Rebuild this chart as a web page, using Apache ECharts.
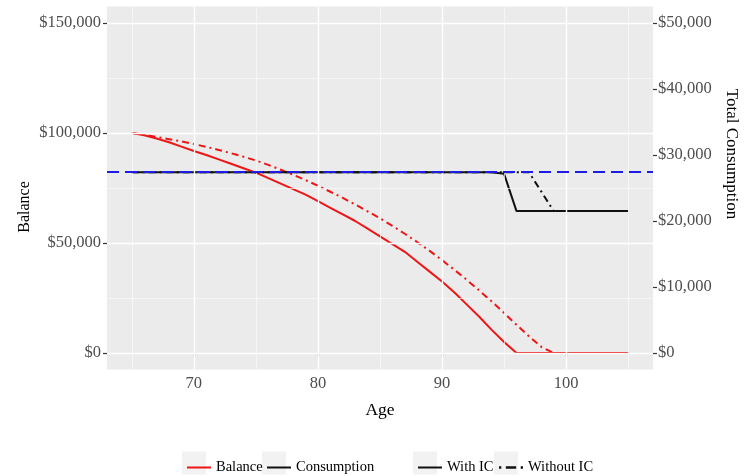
<!DOCTYPE html>
<html>
<head>
<meta charset="utf-8">
<script src="https://cdn.jsdelivr.net/npm/echarts@6/dist/echarts.min.js"></script>
<style>
  html, body { margin: 0; padding: 0; background: #fff; }
  #chart { width: 749px; height: 476px; }
</style>
</head>
<body>
<div id="chart"></div>
<script>
// ages on the x axis
let ages = [65, 66, 67, 68, 69, 70, 71, 72, 73, 74, 75, 76, 77, 78, 79, 80, 81, 82, 83, 84,
  85, 86, 87, 88, 89, 90, 91, 92, 93, 94, 95, 96, 97, 98, 99, 100, 101, 102, 103, 104, 105];

// balance (left axis)
let balanceWithIC = [100000, 99000, 97500, 95800, 93800, 91800, 90000, 88000, 86000, 84000,
  82000, 79500, 77000, 74500, 72000, 69000, 66000, 63000, 60000, 56500,
  53000, 49500, 46000, 41500, 37000, 32500, 27500, 22000, 16500, 10500,
  5000, 0, 0, 0, 0, 0, 0, 0, 0, 0, 0];
let balanceWithoutIC = [100000, 99200, 98200, 97200, 96200, 95000, 93700, 92300, 90800, 89200,
  87500, 85500, 83300, 81000, 78600, 76000, 73300, 70500, 67500, 64400,
  61200, 57800, 54200, 50400, 46400, 42200, 37800, 33200, 28400, 23400,
  18200, 12800, 7600, 2800, 0, 0, 0, 0, 0, 0, 0];

// total consumption (right axis)
let consumptionWithIC = [27400, 27400, 27400, 27400, 27400, 27400, 27400, 27400, 27400, 27400,
  27400, 27400, 27400, 27400, 27400, 27400, 27400, 27400, 27400, 27400,
  27400, 27400, 27400, 27400, 27400, 27400, 27400, 27400, 27400, 27400,
  27150, 21500, 21500, 21500, 21500, 21500, 21500, 21500, 21500, 21500, 21500];
let consumptionWithoutIC = [27400, 27400, 27400, 27400, 27400, 27400, 27400, 27400, 27400, 27400,
  27400, 27400, 27400, 27400, 27400, 27400, 27400, 27400, 27400, 27400,
  27400, 27400, 27400, 27400, 27400, 27400, 27400, 27400, 27400, 27400,
  27400, 27400, 27400, 24450, 21500, 21500, 21500, 21500, 21500, 21500, 21500];
let consumptionRef = 27400;

// ticks and grid lines
let ageTicks = [70, 80, 90, 100];
let ageMinor = [65, 75, 85, 95, 105];
let balanceTicks = [0, 50000, 100000, 150000];
let balanceMinor = [25000, 75000, 125000];
let consumptionTicks = [0, 10000, 20000, 30000, 40000, 50000];

let serif = '"Liberation Serif", "DejaVu Serif", serif';
let red = '#f01515';
let black = '#111111';
let dashDot = [7, 4, 2, 4];
let solidIcon = 'path://M0,0h24v2h-24z';
let dashDotIcon = 'path://M1,0h2v2h-2z M7,0h9v2h-9z M20,0h2v2h-2z';

function pairs(values) {
  return ages.map((a, i) => [a, values[i]]);
}

function dollars(v) {
  return '$' + Number(v).toLocaleString('en-US');
}

function gridLines(axisKey, major, minor) {
  let out = [];
  minor.forEach((v) => out.push({[axisKey]: v, lineStyle: {type: 'solid', width: 0.7, color: '#fafafa'}}));
  major.forEach((v) => out.push({[axisKey]: v, lineStyle: {type: 'solid', width: 1.4, color: '#ffffff'}}));
  return out;
}

function legendAt(name, left, icon) {
  return {
    data: [{name: name, icon: icon}],
    left: left, top: 455,
    itemWidth: 24, itemHeight: 14,
    symbolKeepAspect: true,
    selectedMode: false,
    textStyle: {color: '#000', fontSize: 14.5, fontFamily: serif}
  };
}

function keyBox(left) {
  return {type: 'rect', shape: {x: left, y: 451.5, width: 24, height: 23}, style: {fill: '#f2f2f2'}};
}

let tickStyle = {show: true, length: 4, lineStyle: {color: '#333', width: 1.2}};
let labelStyle = {color: '#4d4d4d', fontSize: 16.5, fontFamily: serif};

let chart = echarts.init(document.getElementById('chart'));

let option = {
  animation: false,
  backgroundColor: '#fff',
  grid: {
    left: 107, right: 96, top: 6.5, bottom: 106.5,
    show: true, backgroundColor: '#ebebeb', borderWidth: 0
  },
  legend: [
    legendAt('Balance', 182, solidIcon),
    legendAt('Consumption', 262, solidIcon),
    legendAt('With IC', 413, solidIcon),
    legendAt('Without IC', 494, dashDotIcon)
  ],
  graphic: [
    keyBox(182), keyBox(262), keyBox(413), keyBox(494),
    {
      type: 'text', x: 25, y: 207, rotation: Math.PI / 2,
      style: {text: 'Balance', fill: '#000', font: '16px ' + serif, align: 'center', verticalAlign: 'middle'}
    },
    {
      type: 'text', x: 731, y: 154, rotation: -Math.PI / 2,
      style: {text: 'Total Consumption', fill: '#000', font: '17px ' + serif, align: 'center', verticalAlign: 'middle'}
    }
  ],
  xAxis: {
    type: 'value', min: 63, max: 107,
    axisLine: {show: false},
    axisTick: Object.assign({customValues: ageTicks}, tickStyle),
    axisLabel: Object.assign({customValues: ageTicks, margin: 6}, labelStyle),
    splitLine: {show: false},
    name: 'Age', nameLocation: 'middle', nameGap: 32,
    nameTextStyle: {color: '#000', fontSize: 17.5, fontFamily: serif}
  },
  yAxis: [
    {
      type: 'value', min: -7500, max: 157500, position: 'left',
      axisLine: {show: false},
      axisTick: Object.assign({customValues: balanceTicks}, tickStyle),
      axisLabel: Object.assign({customValues: balanceTicks, margin: 6, formatter: dollars}, labelStyle),
      splitLine: {show: false}
    },
    {
      type: 'value', min: -2500, max: 52500, position: 'right',
      axisLine: {show: false},
      axisTick: Object.assign({customValues: consumptionTicks}, tickStyle),
      axisLabel: Object.assign({customValues: consumptionTicks, margin: 5, formatter: dollars}, labelStyle),
      splitLine: {show: false}
    }
  ],
  series: [
    // panel grid lines
    {
      name: 'grid', type: 'line', z: 1, silent: true, symbol: 'none',
      data: [[ages[0], 0]], lineStyle: {width: 0},
      markLine: {
        silent: true, symbol: ['none', 'none'], label: {show: false},
        data: gridLines('xAxis', ageTicks, ageMinor).concat(gridLines('yAxis', balanceTicks, balanceMinor))
      }
    },
    {
      name: 'balance-ic', type: 'line', z: 3, symbol: 'none',
      data: pairs(balanceWithIC),
      lineStyle: {color: red, width: 2}
    },
    {
      name: 'balance-no-ic', type: 'line', z: 3, symbol: 'none',
      data: pairs(balanceWithoutIC),
      lineStyle: {color: red, width: 2, type: dashDot}
    },
    {
      name: 'consumption-ic', type: 'line', z: 3, symbol: 'none', yAxisIndex: 1,
      data: pairs(consumptionWithIC),
      lineStyle: {color: black, width: 2}
    },
    {
      name: 'consumption-no-ic', type: 'line', z: 3, symbol: 'none', yAxisIndex: 1,
      data: pairs(consumptionWithoutIC),
      lineStyle: {color: black, width: 2, type: dashDot},
      markLine: {
        silent: true, symbol: ['none', 'none'], label: {show: false},
        lineStyle: {color: '#1c1ce6', width: 2, type: [12, 6]},
        data: [{yAxis: consumptionRef}]
      }
    },
    // legend-only entries
    {name: 'Balance', type: 'line', symbol: 'none', data: [], itemStyle: {color: red}},
    {name: 'Consumption', type: 'line', symbol: 'none', data: [], itemStyle: {color: black}},
    {name: 'With IC', type: 'line', symbol: 'none', data: [], itemStyle: {color: black}},
    {name: 'Without IC', type: 'line', symbol: 'none', data: [], itemStyle: {color: black}}
  ]
};

chart.setOption(option);
</script>
</body>
</html>
